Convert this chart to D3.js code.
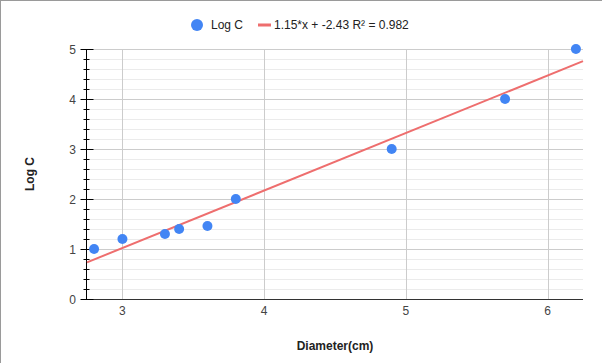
<!DOCTYPE html>
<html>
<head>
<meta charset="utf-8">
<script src="https://cdn.jsdelivr.net/npm/d3@7"></script>
<style>
  body { margin: 0; background: #fff; }
  svg { display: block; font-family: Arial, "Liberation Sans", sans-serif; }
</style>
</head>
<body>
<div id="chart"></div>
<script>
// Data
const diameters = [2.8, 3.0, 3.3, 3.4, 3.6, 3.8, 4.9, 5.7, 6.2];
const logC = [1.0, 1.2, 1.3, 1.4, 1.46, 2.0, 3.0, 4.0, 5.0];
const trendSlope = 1.15;
const trendIntercept = -2.43;
const trendLabel = '1.15*x + -2.43 R\u00B2 = 0.982';
const xTicks = [3, 4, 5, 6];
const yTicks = [0, 1, 2, 3, 4, 5];

const width = 602;
const height = 363;
const margin = { top: 49, right: 19, bottom: 64, left: 87 };

const svg = d3.select('#chart')
    .append('svg')
    .attr('width', width)
    .attr('height', height);

// outer frame (top & left only)
svg.append('line').attr('x1', 0).attr('x2', width).attr('y1', 0.5).attr('y2', 0.5)
    .attr('stroke', '#9a9a9a');
svg.append('line').attr('x1', 0.5).attr('x2', 0.5).attr('y1', 0).attr('y2', height)
    .attr('stroke', '#9a9a9a');

const x = d3.scaleLinear()
    .domain([2.75, 6.25])
    .range([margin.left, width - margin.right]);

const y = d3.scaleLinear()
    .domain([0, 5])
    .range([height - margin.bottom, margin.top]);

// minor horizontal grid
const minorY = d3.range(0, 5.01, 0.2).filter(v => Math.abs(v - Math.round(v)) > 1e-6);
svg.append('g')
    .selectAll('line')
    .data(minorY)
    .join('line')
    .attr('x1', x.range()[0]).attr('x2', x.range()[1])
    .attr('y1', d => Math.round(y(d)) + 0.5).attr('y2', d => Math.round(y(d)) + 0.5)
    .attr('stroke', '#ebebeb');

// major horizontal grid
svg.append('g')
    .selectAll('line')
    .data(yTicks.slice(1))
    .join('line')
    .attr('x1', x.range()[0]).attr('x2', x.range()[1])
    .attr('y1', d => Math.round(y(d)) + 0.5).attr('y2', d => Math.round(y(d)) + 0.5)
    .attr('stroke', '#cccccc');

// vertical grid
svg.append('g')
    .selectAll('line')
    .data(xTicks)
    .join('line')
    .attr('x1', d => Math.round(x(d)) + 0.5).attr('x2', d => Math.round(x(d)) + 0.5)
    .attr('y1', y.range()[0]).attr('y2', y.range()[1])
    .attr('stroke', '#cccccc');

// x axis line
svg.append('line')
    .attr('x1', x.range()[0]).attr('x2', x.range()[1])
    .attr('y1', y(0) + 0.5).attr('y2', y(0) + 0.5)
    .attr('stroke', '#333');

// y axis with major and minor ticks
const axisX = margin.left - 0.5;
svg.append('line')
    .attr('x1', axisX).attr('x2', axisX)
    .attr('y1', y(0)).attr('y2', y(5))
    .attr('stroke', '#000');

svg.append('g')
    .selectAll('line')
    .data(minorY)
    .join('line')
    .attr('x1', axisX - 3).attr('x2', axisX + 3)
    .attr('y1', d => Math.round(y(d)) + 0.5).attr('y2', d => Math.round(y(d)) + 0.5)
    .attr('stroke', '#000');

svg.append('g')
    .selectAll('line')
    .data(yTicks)
    .join('line')
    .attr('x1', axisX - 6).attr('x2', axisX + 7)
    .attr('y1', d => Math.round(y(d)) + 0.5).attr('y2', d => Math.round(y(d)) + 0.5)
    .attr('stroke', '#000');

// tick labels
svg.append('g')
    .selectAll('text')
    .data(yTicks)
    .join('text')
    .attr('x', 76)
    .attr('y', d => y(d) + 0.5)
    .attr('dy', '0.35em')
    .attr('text-anchor', 'end')
    .attr('fill', '#444')
    .style('font-size', '12px')
    .text(d => d);

svg.append('g')
    .selectAll('text')
    .data(xTicks)
    .join('text')
    .attr('x', d => x(d))
    .attr('y', y(0) + 16)
    .attr('text-anchor', 'middle')
    .attr('fill', '#444')
    .style('font-size', '12px')
    .text(d => d);

// trendline
const trendX = x.domain();
svg.append('line')
    .attr('x1', x(trendX[0])).attr('y1', y(trendSlope * trendX[0] + trendIntercept))
    .attr('x2', x(trendX[1])).attr('y2', y(trendSlope * trendX[1] + trendIntercept))
    .attr('stroke', '#ee6e6e')
    .attr('stroke-width', 2);

// points
svg.append('g')
    .selectAll('circle')
    .data(diameters.map((d, i) => [d, logC[i]]))
    .join('circle')
    .attr('cx', d => x(d[0]))
    .attr('cy', d => y(d[1]))
    .attr('r', 5)
    .attr('fill', '#4285f4');

// axis titles
svg.append('text')
    .attr('x', 335)
    .attr('y', 350)
    .attr('text-anchor', 'middle')
    .attr('fill', '#222')
    .style('font-size', '12px')
    .style('font-weight', 'bold')
    .text('Diameter(cm)');

svg.append('text')
    .attr('transform', `translate(34,${(y(0) + y(5)) / 2}) rotate(-90)`)
    .attr('text-anchor', 'middle')
    .attr('fill', '#222')
    .style('font-size', '12px')
    .style('font-weight', 'bold')
    .text('Log C');

// legend
const legend = svg.append('g');
legend.append('circle').attr('cx', 197).attr('cy', 25).attr('r', 6).attr('fill', '#4285f4');
legend.append('text').attr('x', 211).attr('y', 25).attr('dy', '0.35em')
    .attr('fill', '#222').style('font-size', '12px').text('Log C');
legend.append('rect').attr('x', 258).attr('y', 23.5).attr('width', 13).attr('height', 3)
    .attr('fill', '#ee6e6e');
legend.append('text').attr('x', 274).attr('y', 25).attr('dy', '0.35em')
    .attr('fill', '#222').style('font-size', '12px').text(trendLabel);
</script>
</body>
</html>
